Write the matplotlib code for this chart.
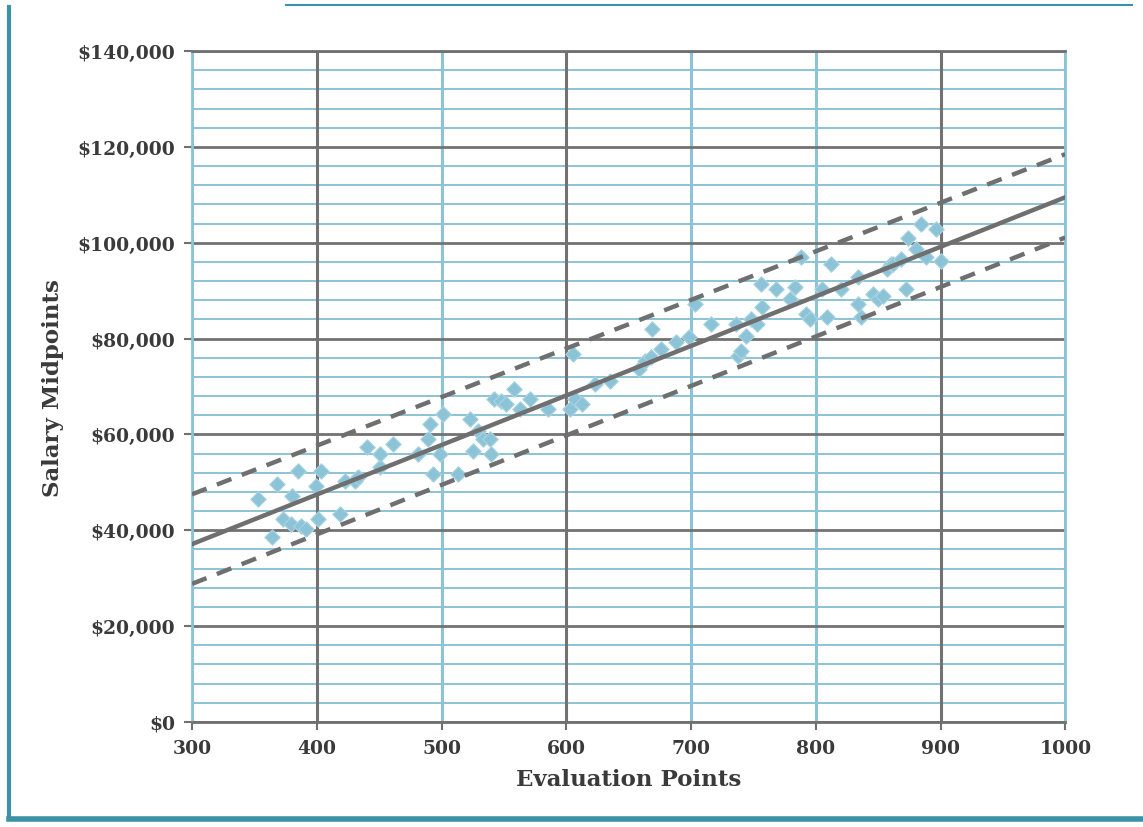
import numpy as np
import matplotlib.pyplot as plt
from matplotlib.lines import Line2D
from matplotlib.ticker import FuncFormatter

# Evaluation points and salary midpoints
eval_points = [353, 364, 368, 373, 379, 380, 385, 387, 391, 399, 401, 403, 419, 423,
               431, 433, 440, 451, 451, 461, 481, 489, 491, 493, 499, 501, 513, 523,
               525, 529, 533, 539, 540, 542, 548, 552, 558, 563, 571, 585, 605, 603,
               607, 613, 623, 635, 658, 663, 668, 669, 676, 688, 698, 703, 716, 736,
               738, 740, 744, 748, 753, 756, 757, 768, 779, 783, 788, 792, 795, 805,
               809, 812, 820, 834, 834, 836, 846, 850, 854, 857, 860, 862, 868, 872,
               874, 880, 884, 888, 896, 900]
salaries = [46500, 38600, 49600, 42300, 41300, 47100, 52300, 40900, 40200, 49200,
            42300, 52300, 43400, 50300, 50300, 51100, 57300, 53200, 55900, 58000,
            55900, 59000, 62100, 51700, 55900, 64200, 51700, 63200, 56500, 60700,
            59000, 59000, 55900, 67400, 67000, 66300, 69400, 65300, 67400, 65300,
            76700, 65300, 67400, 66300, 70500, 71100, 73600, 75300, 76100, 82000,
            77800, 79300, 80300, 87200, 83000, 83000, 76300, 77400, 80500, 84000,
            83000, 91300, 86500, 90300, 88200, 90700, 97000, 85100, 84000, 90300,
            84500, 95500, 90300, 92800, 87200, 84500, 89300, 88200, 88800, 94500,
            95500, 95500, 96600, 90300, 101100, 98600, 103900, 97000, 102800, 96100]

# Trend line and range lines (values at x = 300 and x = 1000)
line_x = [300, 1000]
trend_y = [37100, 109500]
upper_y = [47500, 118500]
lower_y = [28800, 101100]

x_ticks = [300, 400, 500, 600, 700, 800, 900, 1000]
y_ticks = [0, 20000, 40000, 60000, 80000, 100000, 120000, 140000]

blue = '#8cc3d6'
gray = '#6f6f6f'
teal = '#3b92a6'
serif = 'DejaVu Serif'

fig = plt.figure(figsize=(11.43, 8.28), dpi=100)
ax = fig.add_axes([0.168, 0.127, 0.764, 0.810])

# grid: light blue minor horizontals, dark gray majors
for v in np.arange(0, 140001, 4000):
    if v % 20000:
        ax.axhline(v, color=blue, lw=1.4, zorder=1)
for v in y_ticks:
    ax.axhline(v, color='#727272', lw=2.0, zorder=1.2)
for v in x_ticks:
    c = '#727272' if v in (400, 600, 900) else blue
    ax.axvline(v, color=c, lw=2.2, zorder=1.1)

ax.scatter(eval_points, salaries, marker='D', s=62, color=blue,
           edgecolors='#a9d3e2', linewidths=0.8, zorder=3)

ax.plot(line_x, trend_y, color=gray, lw=3.2, zorder=4)
ax.plot(line_x, upper_y, color=gray, lw=3.2, dashes=(3.5, 2.5), zorder=4)
ax.plot(line_x, lower_y, color=gray, lw=3.2, dashes=(3.5, 2.5), zorder=4)

ax.set_xlim(300, 1000)
ax.set_ylim(0, 140000)
ax.set_xticks(x_ticks)
ax.set_yticks(y_ticks)
ax.yaxis.set_major_formatter(FuncFormatter(lambda v, p: '${:,.0f}'.format(v)))
ax.tick_params(length=6, width=1.5, color='#707070', labelsize=13.5,
               labelcolor='#3a3a3a', pad=6)
for lab in ax.get_xticklabels() + ax.get_yticklabels():
    lab.set_family(serif)
    lab.set_fontweight('bold')

for side in ax.spines:
    ax.spines[side].set_color(blue)
    ax.spines[side].set_linewidth(2)
ax.spines['top'].set_color('#707070')
ax.spines['bottom'].set_color('#707070')

ax.set_xlabel('Evaluation Points', family=serif, fontweight='bold',
              fontsize=16.5, color='#3a3a3a', labelpad=8)
ax.set_ylabel('Salary Midpoints', family=serif, fontweight='bold',
              fontsize=16.5, color='#3a3a3a', labelpad=10)

# teal frame on the left, bottom and top of the figure
fig.add_artist(Line2D([0.008, 0.008], [0.01, 0.99], transform=fig.transFigure,
                      color=teal, lw=3))
fig.add_artist(Line2D([0.008, 1.0], [0.01, 0.01], transform=fig.transFigure,
                      color=teal, lw=4))
fig.add_artist(Line2D([0.25, 0.99], [0.993, 0.993], transform=fig.transFigure,
                      color=teal, lw=1.5))

fig.savefig('out.png', dpi=100)
